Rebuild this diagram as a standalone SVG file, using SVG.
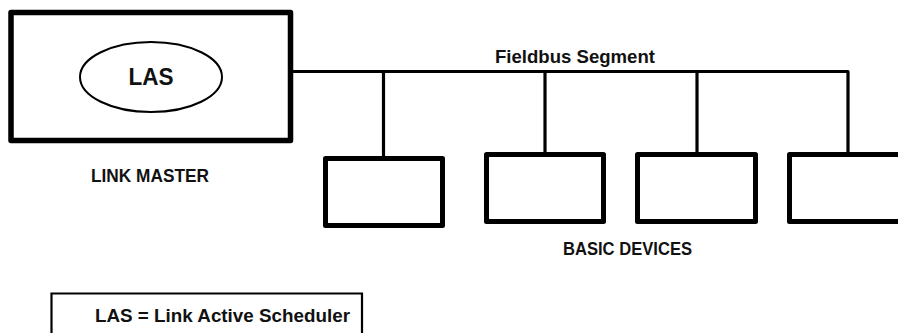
<svg xmlns="http://www.w3.org/2000/svg" width="898" height="333" viewBox="0 0 898 333">
<style>
.lbl{font-family:"Liberation Sans",Arial,sans-serif;font-weight:bold;fill:#111;}
.dev{fill:#fff;stroke:#000;stroke-width:5;stroke-linejoin:round;}
.wire{fill:none;stroke:#000;stroke-width:3.2;stroke-linejoin:round;}
</style>
<rect width="898" height="333" fill="#fff"/>
<g id="connectors">
<path class="wire" d="M290,71.5 H848 V153"/>
<line class="wire" x1="383.5" y1="71.5" x2="383.5" y2="157"/>
<line class="wire" x1="545" y1="71.5" x2="545" y2="153"/>
<line class="wire" x1="697" y1="71.5" x2="697" y2="153"/>
</g>
<g id="link-master">
<rect x="11" y="12.5" width="279.5" height="128" fill="#fff" stroke="#000" stroke-width="5.5" stroke-linejoin="round"/>
<g id="las">
<ellipse cx="151" cy="77" rx="71" ry="35" fill="#fff" stroke="#000" stroke-width="2"/>
<text x="151" y="85" text-anchor="middle" font-family="Liberation Sans,Arial,sans-serif" font-weight="bold" font-size="23" textLength="45" lengthAdjust="spacingAndGlyphs" fill="#111">LAS</text>
</g>
<text class="lbl" x="150" y="182" text-anchor="middle" font-size="18" textLength="118" lengthAdjust="spacingAndGlyphs">LINK MASTER</text>
</g>
<g id="segment-label">
<text class="lbl" x="575" y="63" text-anchor="middle" font-size="18" textLength="160" lengthAdjust="spacingAndGlyphs">Fieldbus Segment</text>
</g>
<g id="device-1"><rect class="dev" x="325.5" y="158.5" width="117" height="67"/></g>
<g id="device-2"><rect class="dev" x="486.5" y="154.5" width="117" height="67"/></g>
<g id="device-3"><rect class="dev" x="637.5" y="154.5" width="118" height="67"/></g>
<g id="device-4"><rect class="dev" x="789.5" y="154.5" width="118" height="67"/></g>
<g id="basic-devices-label">
<text class="lbl" x="627.5" y="255" text-anchor="middle" font-size="18" textLength="129" lengthAdjust="spacingAndGlyphs">BASIC DEVICES</text>
</g>
<g id="legend">
<path d="M51.5,340 V293.5 H362 V340" fill="none" stroke="#000" stroke-width="2.2"/>
<text class="lbl" x="222.5" y="322" text-anchor="middle" font-size="18" textLength="255" lengthAdjust="spacingAndGlyphs">LAS = Link Active Scheduler</text>
</g>
</svg>
